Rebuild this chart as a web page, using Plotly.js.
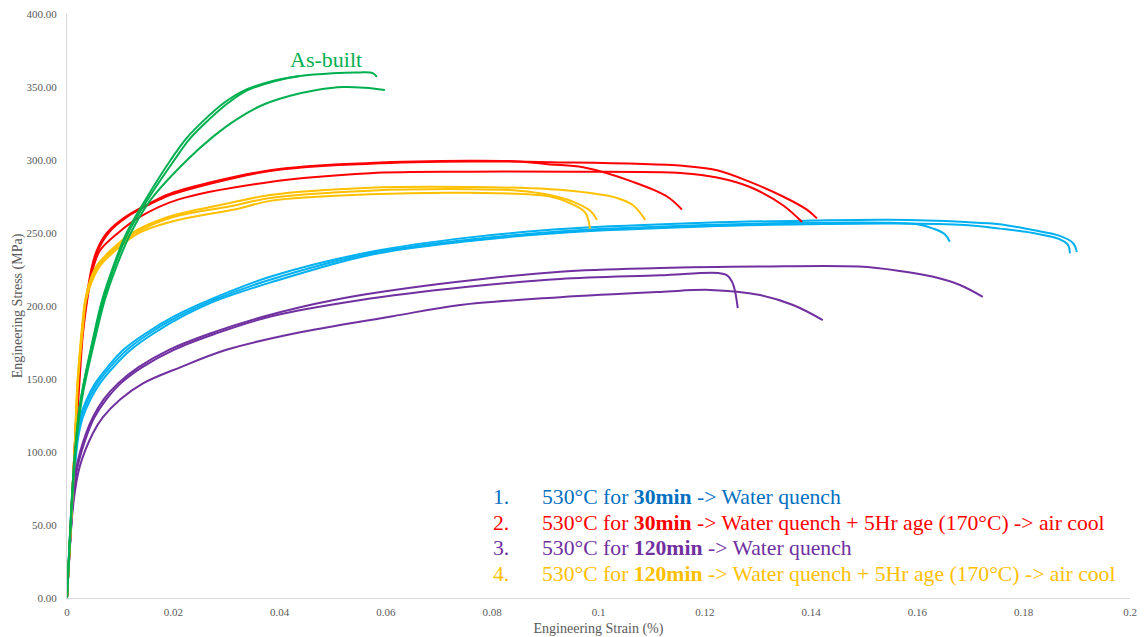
<!DOCTYPE html>
<html>
<head>
<meta charset="utf-8">
<script src="https://cdn.plot.ly/plotly-3.0.1.min.js"></script>
<style>
  html, body { margin: 0; padding: 0; background: #ffffff; }
  #chart { width: 1145px; height: 637px; }
</style>
</head>
<body>
<div id="chart"></div>
<script>
// Tensile curves: [engineering strain, engineering stress (MPa)]

// 1. 530°C 30 min -> water quench
const blueA = [[0,0],[0.0011,80],[0.0016,101],[0.0019,112],[0.0025,124],[0.0037,136],[0.0053,147],[0.0076,158],[0.0106,170],[0.0147,181],[0.0202,193],[0.0267,204],[0.0382,220],[0.057,237],[0.0758,247],[0.0946,253],[0.12,257],[0.14,258.5],[0.155,259],[0.169,257.5],[0.1755,256],[0.1817,252],[0.1868,248],[0.1893,243],[0.19,237]];
const blueB = [[0,0],[0.0012,80],[0.0017,101],[0.002,112],[0.0027,124],[0.004,136],[0.0057,147],[0.0081,158],[0.0113,170],[0.0154,181],[0.021,193],[0.0275,204],[0.0382,218],[0.057,236],[0.0758,245.5],[0.0946,251.5],[0.12,255.5],[0.14,257],[0.155,257],[0.16,256],[0.163,253],[0.1652,249],[0.1661,244]];
const blueC = [[0,0],[0.0013,80],[0.0018,101],[0.0022,112],[0.003,124],[0.0044,136],[0.0062,147],[0.0087,158],[0.012,170],[0.0162,181],[0.0218,193],[0.0283,204],[0.0382,216],[0.057,235],[0.0758,244.5],[0.0946,250.5],[0.12,254.5],[0.14,256],[0.155,256.5],[0.169,255.5],[0.1755,253],[0.1817,250],[0.1866,246],[0.1883,242],[0.1887,236]];

// 2. 530°C 30 min -> water quench + 5 h age (170°C) -> air cool
const redA = [[0,0],[0.0014,100],[0.002,140],[0.0028,181],[0.0036,204],[0.0047,227],[0.0056,238],[0.0075,250],[0.011,261],[0.017,273],[0.0194,277],[0.0382,293],[0.057,298],[0.0758,299.5],[0.085,299],[0.0909,297],[0.0971,295],[0.1065,285],[0.1129,275],[0.1157,266]];
const redB = [[0,0],[0.0014,100],[0.002,140],[0.0029,181],[0.0037,204],[0.0048,227],[0.0058,238],[0.0078,250],[0.0113,261],[0.0175,273],[0.0198,276.5],[0.0382,292.5],[0.057,297.5],[0.0758,299],[0.0909,298.5],[0.1159,296],[0.1223,293],[0.1285,285],[0.1347,275],[0.1392,266],[0.1411,260]];
const redC = [[0,0],[0.0015,100],[0.0022,140],[0.003,181],[0.0038,204],[0.005,227],[0.0062,238],[0.0096,250],[0.0137,261],[0.021,273],[0.0382,285],[0.057,291],[0.0758,292],[0.0946,292],[0.1159,291],[0.1223,288],[0.1285,281.5],[0.1347,269],[0.1383,257.5]];

// 3. 530°C 120 min -> water quench
const purpleA = [[0,0],[0.0012,70],[0.0018,90],[0.0036,113],[0.0049,124],[0.0069,136],[0.0096,147],[0.0134,158],[0.0192,170],[0.0268,181],[0.0372,193],[0.05,204],[0.07,215],[0.0928,223.5],[0.1116,226],[0.13,227],[0.149,227],[0.1567,224],[0.163,220],[0.168,214.4],[0.1723,206.3]];
const purpleB = [[0,0],[0.0012,70],[0.002,90],[0.0039,113],[0.0052,124],[0.0074,136],[0.0101,147],[0.0141,158],[0.0201,170],[0.0279,181],[0.0385,193],[0.055,204],[0.075,213],[0.0928,218.5],[0.1116,221],[0.1225,222.6],[0.1242,221],[0.1252,216],[0.1257,210],[0.1262,198.6]];
const purpleC = [[0,0],[0.0012,65],[0.0024,90],[0.0049,113],[0.0068,124],[0.01,136],[0.0143,147],[0.0213,158],[0.03,170],[0.0425,181],[0.0613,193],[0.074,200.7],[0.0928,206],[0.1116,209.6],[0.121,211],[0.1304,207.5],[0.1366,200.7],[0.1422,190.4]];

// 4. 530°C 120 min -> water quench + 5 h age (170°C) -> air cool
const orangeA = [[0,0],[0.0014,100],[0.002,149],[0.0027,181],[0.0034,204],[0.0042,216],[0.0055,227],[0.0082,238],[0.0122,250],[0.019,261],[0.03,270],[0.0382,276],[0.057,281],[0.0758,281.5],[0.0909,280],[0.0971,278],[0.1035,274],[0.1065,269],[0.1088,259]];
const orangeB = [[0,0],[0.0014,100],[0.002,149],[0.0028,181],[0.0035,204],[0.0044,216],[0.0058,227],[0.0086,238],[0.0128,250],[0.02,261],[0.031,268.5],[0.0382,274],[0.057,279],[0.0758,280],[0.085,279],[0.0909,276],[0.0955,271],[0.0985,265],[0.0997,259]];
const orangeC = [[0,0],[0.0015,100],[0.0021,149],[0.0029,181],[0.0036,204],[0.0046,216],[0.0061,227],[0.0091,238],[0.0135,250],[0.021,259],[0.032,266.5],[0.0382,272],[0.057,276.5],[0.0758,277.5],[0.0909,275],[0.0946,270.5],[0.0975,264],[0.0984,253]];

// As-built
const greenA = [[0,0],[0.0015,100],[0.0026,136],[0.0051,181],[0.0066,204],[0.0087,227],[0.0112,250],[0.0148,273],[0.0195,300],[0.0225,315],[0.026,328],[0.0295,339],[0.033,347],[0.038,353.5],[0.0438,357.5]];
const greenB = [[0,0],[0.0015,100],[0.0026,136],[0.0052,181],[0.0068,204],[0.0089,227],[0.0115,250],[0.0152,273],[0.0202,300],[0.0232,315],[0.0268,328],[0.0303,339],[0.0338,347.5],[0.039,354],[0.0438,357.5],[0.05,359.5],[0.055,360],[0.0575,359.5],[0.0583,357]];
const greenC = [[0,0],[0.0016,100],[0.0028,136],[0.0055,181],[0.0071,204],[0.0093,227],[0.012,250],[0.0158,273],[0.0226,300],[0.0275,316],[0.032,328],[0.037,338],[0.042,344],[0.047,348],[0.052,350],[0.056,349.5],[0.0598,348]];

const groups = [
  { color: '#00B0F0', curves: [blueA, blueB, blueC] },
  { color: '#FF0000', curves: [redA, redB, redC] },
  { color: '#7030A0', curves: [purpleA, purpleB, purpleC] },
  { color: '#FFC000', curves: [orangeA, orangeB, orangeC] },
  { color: '#00B050', curves: [greenA, greenB, greenC] }
];

// Key text, one row per treatment
const keyNumbers = ['1.', '2.', '3.', '4.'];
const keyTexts = [
  '530°C for <b>30min</b> -> Water quench',
  '530°C for <b>30min</b> -> Water quench + 5Hr age (170°C) -> air cool',
  '530°C for <b>120min</b> -> Water quench',
  '530°C for <b>120min</b> -> Water quench + 5Hr age (170°C) -> air cool'
];
const keyColors = ['#0070C0', '#FF0000', '#7030A0', '#FFC000'];
const keyRowsY = [69.2, 51.4, 34.2, 16.4];

const traces = [];
groups.forEach(g => {
  g.curves.forEach(c => {
    traces.push({
      type: 'scatter',
      mode: 'lines',
      x: c.map(p => p[0]),
      y: c.map(p => p[1]),
      line: { color: g.color, width: 2, shape: 'spline', smoothing: 1 },
      hoverinfo: 'skip',
      showlegend: false
    });
  });
});

const serif = 'Liberation Serif, Times New Roman, serif';
const annotations = [];
keyNumbers.forEach((n, i) => {
  annotations.push({
    x: 0.0797, y: keyRowsY[i], xref: 'x', yref: 'y',
    text: n, showarrow: false, xanchor: 'left', yanchor: 'middle',
    font: { family: serif, size: 21.7, color: keyColors[i] }
  });
  annotations.push({
    x: 0.0889, y: keyRowsY[i], xref: 'x', yref: 'y',
    text: keyTexts[i], showarrow: false, xanchor: 'left', yanchor: 'middle',
    font: { family: serif, size: 21.7, color: keyColors[i] }
  });
});
annotations.push({
  x: 0.0487, y: 368.5, xref: 'x', yref: 'y',
  text: 'As-built', showarrow: false, xanchor: 'center', yanchor: 'middle',
  font: { family: serif, size: 22, color: '#00B050' }
});

const layout = {
  width: 1145,
  height: 637,
  margin: { l: 67, r: 15, t: 14, b: 39 },
  paper_bgcolor: '#ffffff',
  plot_bgcolor: '#ffffff',
  font: { family: serif, color: '#595959' },
  showlegend: false,
  xaxis: {
    range: [0, 0.2],
    dtick: 0.02,
    tick0: 0,
    showgrid: false,
    zeroline: false,
    showline: true,
    linecolor: '#D9D9D9',
    linewidth: 1,
    ticks: '',
    ticklabelstandoff: 4,
    automargin: false,
    tickfont: { family: serif, size: 11, color: '#595959' },
    title: { text: 'Engineering Strain (%)', font: { family: serif, size: 14, color: '#595959' }, standoff: 5 }
  },
  yaxis: {
    range: [0, 400],
    dtick: 50,
    tick0: 0,
    tickformat: '.2f',
    showgrid: false,
    zeroline: false,
    showline: true,
    linecolor: '#D9D9D9',
    linewidth: 1,
    ticks: '',
    ticklabelstandoff: 7,
    automargin: false,
    tickfont: { family: serif, size: 11, color: '#595959' },
    title: { text: 'Engineering Stress (MPa)', font: { family: serif, size: 14, color: '#595959' }, standoff: 0 }
  },
  annotations: annotations
};

Plotly.newPlot('chart', traces, layout, { displayModeBar: false, staticPlot: true });
</script>
</body>
</html>
